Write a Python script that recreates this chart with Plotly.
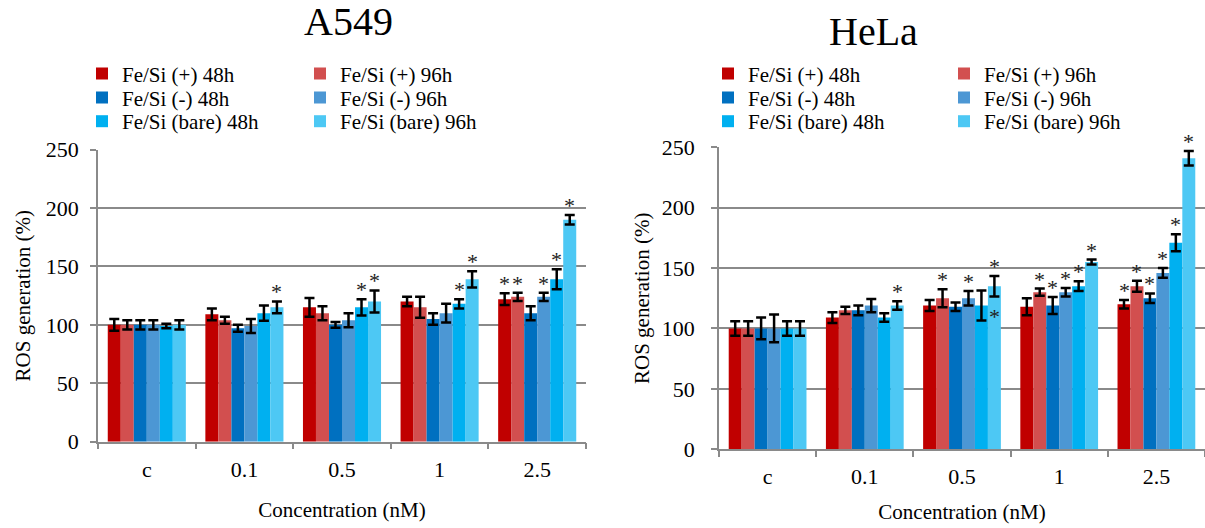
import plotly.graph_objects as go

categories = ["c", "0.1", "0.5", "1", "2.5"]
series_names = ["Fe/Si (+) 48h", "Fe/Si (+) 96h", "Fe/Si (-) 48h",
                "Fe/Si (-) 96h", "Fe/Si (bare) 48h", "Fe/Si (bare) 96h"]
colors = ["#C00000", "#D24F4F", "#0070C0", "#4C97D4", "#00B0F0", "#4DC8F4"]

# A549 values (%), per series across categories
a549_vals = [
    [100, 109, 115, 120, 122],
    [100, 104, 110, 115, 124],
    [100, 97, 100, 105, 110],
    [100, 99, 104, 110, 124],
    [99, 110, 115, 118, 139],
    [100, 115, 120, 139, 190],
]
a549_err = [
    [5, 5, 8, 4, 5],
    [4, 3, 6, 9, 3.5],
    [4, 3, 2.5, 5, 6],
    [4, 6, 6, 8, 3.5],
    [2, 6.5, 7, 4, 8.5],
    [4, 5, 9.5, 7, 4],
]
# stars: 1 = significant
a549_star = [
    [0, 0, 0, 0, 1],
    [0, 0, 0, 0, 1],
    [0, 0, 0, 0, 0],
    [0, 0, 0, 0, 1],
    [0, 0, 1, 1, 1],
    [0, 1, 1, 1, 1],
]

# HeLa values (%)
hela_vals = [
    [100, 109, 119, 118, 120],
    [100, 115, 125, 130, 135],
    [100, 115, 118, 119, 125],
    [100, 119, 125, 130, 146],
    [100, 109, 119, 135, 171],
    [100, 119, 135, 155, 241],
]
hela_err = [
    [6, 4.5, 4.5, 7, 3.5],
    [6, 3, 7.5, 3, 4.5],
    [9, 4, 3.5, 7, 4],
    [11.5, 5.5, 6, 3.5, 4],
    [6, 3.5, 12.5, 4, 7],
    [6, 3.5, 8.5, 2, 6],
]
hela_star = [
    [0, 0, 0, 0, 1],
    [0, 0, 1, 1, 1],
    [0, 0, 0, 1, 1],
    [0, 0, 1, 1, 1],
    [0, 0, 0, 1, 1],
    [0, 1, 1, 1, 1],
]
# extra star drawn inside the HeLa 0.5 nM bare 96h bar
hela_inner_star = {"category": 2, "series": 5, "value": 110}

yticks = [0, 50, 100, 150, 200, 250]

FONT = "Liberation Serif"
GRID = "#8a8a8a"
W, H = 1205, 528

fig = go.Figure()

# legend placement (pixels): column left edges and row centres for each chart
legend_cols = [[82, 300], [708, 944]]
legend_rows = [65, 90, 115]

legend_layout = {}
n = 0
for chart, (vals, errs, ax) in enumerate([(a549_vals, a549_err, ("x", "y")),
                                           (hela_vals, hela_err, ("x2", "y2"))]):
    for i, name in enumerate(series_names):
        n += 1
        lname = "legend" if n == 1 else f"legend{n}"
        legend_layout[lname] = dict(
            x=legend_cols[chart][i % 2] / W, y=1 - legend_rows[i // 2] / H,
            xanchor="left", yanchor="middle",
            font=dict(family=FONT, size=21, color="black"),
            bgcolor="rgba(0,0,0,0)", itemwidth=30, itemclick=False,
        )
        fig.add_trace(go.Bar(
            x=categories, y=vals[i], name=name,
            marker=dict(color=colors[i], line=dict(width=0)),
            error_y=dict(type="data", array=errs[i], color="black",
                         thickness=2.5, width=5),
            xaxis=ax[0], yaxis=ax[1],
            legend=lname,
            showlegend=True,
        ))

annotations = []
def add_stars(vals, errs, stars, xref, yref, barw):
    for i in range(6):
        for j in range(len(categories)):
            if stars[i][j]:
                annotations.append(dict(
                    x=j, y=vals[i][j] + errs[i][j], xref=xref, yref=yref,
                    text="*", showarrow=False, yanchor="bottom",
                    xshift=(i - 2.5) * barw, yshift=-5,
                    font=dict(family=FONT, size=22, color="#222222")))

add_stars(a549_vals, a549_err, a549_star, "x", "y", 13.0)
add_stars(hela_vals, hela_err, hela_star, "x2", "y2", 12.96)
annotations.append(dict(
    x=hela_inner_star["category"], y=hela_inner_star["value"], xref="x2", yref="y2",
    text="*", showarrow=False, yanchor="middle",
    xshift=(hela_inner_star["series"] - 2.5) * 12.96,
    font=dict(family=FONT, size=22, color="#222222")))

# titles
annotations.append(dict(text="A549", x=302 / W, y=1 - 10 / H, xref="paper", yref="paper",
                        showarrow=False, font=dict(family=FONT, size=40, color="black"),
                        yanchor="middle"))
annotations.append(dict(text="HeLa", x=920 / W, y=1 - 20 / H, xref="paper", yref="paper",
                        showarrow=False, font=dict(family=FONT, size=40, color="black"),
                        yanchor="middle"))

def xd(a, b):
    return [a / W, min(b / W, 1.0)]
def yd(top, bot):
    return [1 - bot / H, 1 - top / H]

axis_common = dict(showline=True, linecolor=GRID, linewidth=1.5,
                   tickfont=dict(family=FONT, size=22, color="black"),
                   ticks="outside", tickcolor=GRID, ticklen=6, tickwidth=1.5)

def make_x(standoff):
    return dict(type="category", tickson="boundaries", showgrid=False,
                ticklabelstandoff=7,
                title=dict(text="Concentration (nM)",
                           font=dict(family=FONT, size=21, color="black"),
                           standoff=standoff),
                **axis_common)

def make_y(standoff, lab):
    return dict(range=[0, 250], tickvals=yticks, showgrid=True, gridcolor=GRID, gridwidth=1.5,
                zeroline=False, ticklabelstandoff=lab,
                title=dict(text="ROS generation (%)",
                           font=dict(family=FONT, size=21, color="black"),
                           standoff=standoff),
                **axis_common)

fig.update_layout(
    width=W, height=H,
    font=dict(family=FONT, color="black"),
    margin=dict(l=0, r=0, t=0, b=0),
    paper_bgcolor="white", plot_bgcolor="white",
    barmode="group", bargap=0.2, bargroupgap=0,
    xaxis=dict(domain=xd(98, 586), anchor="y", **make_x(22)),
    yaxis=dict(domain=yd(144.5, 451), anchor="x", **make_y(9, 7)),
    xaxis2=dict(domain=xd(719, 1206), anchor="y2", **make_x(16)),
    yaxis2=dict(domain=yd(142, 459), anchor="x2", **make_y(6, 12)),
    annotations=annotations,
    showlegend=True,
    **legend_layout,
)

fig.write_html("out.html")
